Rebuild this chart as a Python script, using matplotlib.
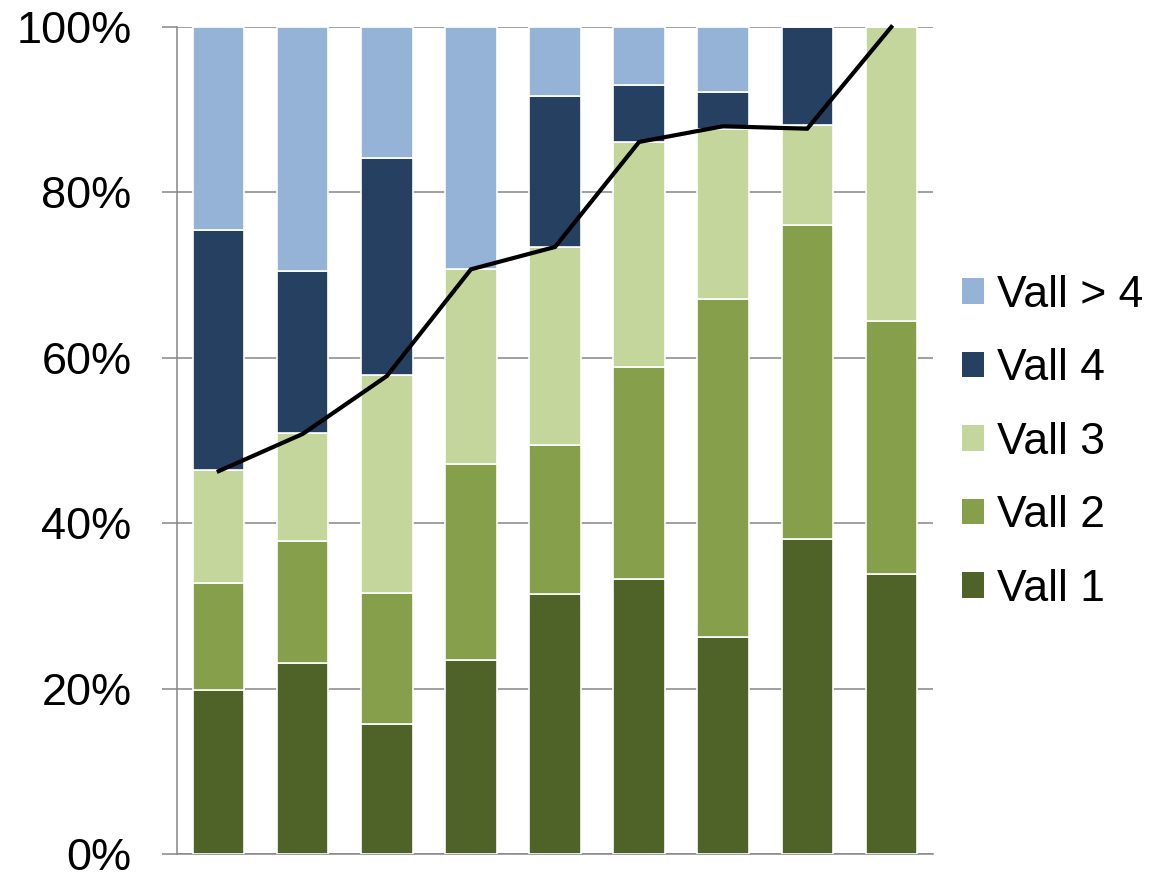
import numpy as np
import matplotlib
matplotlib.use("Agg")
import matplotlib.pyplot as plt
from matplotlib.patches import Patch

plt.rcParams["font.family"] = ["Liberation Sans", "DejaVu Sans"]

# ── data (percent of each column) ─────────────────────────────────────────────
groups = ["1", "2", "3", "4", "5", "6", "7", "8", "9"]
vall_1 = [19.8, 23.1, 15.7, 23.5, 31.4, 33.3, 26.2, 38.1, 33.8]
vall_2 = [13.0, 14.7, 15.8, 23.6, 18.1, 25.6, 40.9, 38.0, 30.6]
vall_3 = [13.6, 13.1, 26.4, 23.6, 23.9, 27.2, 20.6, 12.0, 35.6]
vall_4 = [29.0, 19.6, 26.3, 0.0, 18.3, 6.9, 4.4, 11.9, 0.0]
vall_5 = [24.6, 29.5, 15.8, 29.3, 8.3, 7.0, 7.9, 0.0, 0.0]
line_vals = [46.3, 50.8, 57.8, 70.7, 73.4, 86.1, 88.0, 87.7, 100.0]

series = [("Vall 1", vall_1, "#4F6228"),
          ("Vall 2", vall_2, "#859F4A"),
          ("Vall 3", vall_3, "#C4D69B"),
          ("Vall 4", vall_4, "#254061"),
          ("Vall > 4", vall_5, "#95B3D7")]

fig = plt.figure(figsize=(11.63, 8.74), dpi=100)
ax = fig.add_axes([176.7 / 1163, 20 / 874, (933.3 - 176.7) / 1163, 827 / 874])

x = np.arange(len(groups))
width = 0.61
bottom = np.zeros(len(groups))
handles = []
for name, vals, col in series:
    vals = np.array(vals)
    ax.bar(x, vals, width, bottom=bottom, color=col, edgecolor="white",
           linewidth=1.2, zorder=3)
    bottom += vals
    handles.append(Patch(facecolor=col, edgecolor="none", label=name))

ax.plot(x, line_vals, color="black", lw=3.0, zorder=5, clip_on=False,
        solid_joinstyle="miter")

ax.set_xlim(-0.5, len(groups) - 0.5)
ax.set_ylim(0, 100)
ax.set_yticks(np.arange(0, 101, 20))
ax.set_yticklabels([f"{v}%" for v in range(0, 101, 20)])
ax.set_xticks([])
ax.tick_params(axis="y", direction="out", length=10.5, width=1.1,
               color="#868686", labelsize=32.5, pad=22)
ax.grid(axis="y", color="#868686", lw=1.1, zorder=0)
ax.set_axisbelow(True)
for s in ("top", "right"):
    ax.spines[s].set_visible(False)
for s in ("left", "bottom"):
    ax.spines[s].set_color("#868686")
    ax.spines[s].set_linewidth(1.1)

fig.legend(handles=handles[::-1], loc="center left",
           bbox_to_anchor=(961.7 / 1163, 0.494), frameon=False,
           fontsize=32, handlelength=0.5, handleheight=0.5,
           handletextpad=0.3, labelspacing=0.73, borderpad=0, borderaxespad=0)

fig.savefig("out.png", dpi=100)
